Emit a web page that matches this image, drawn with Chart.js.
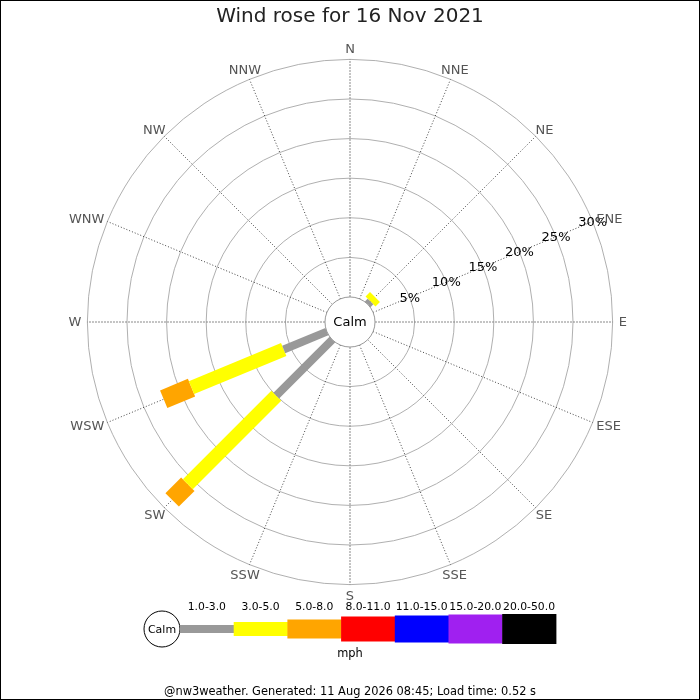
<!DOCTYPE html>
<html>
<head>
<meta charset="utf-8">
<script src="https://cdn.jsdelivr.net/npm/chart.js@4"></script>
<style>
html,body{margin:0;padding:0;background:#fff;}
#wrap{width:700px;height:700px;position:relative;}
</style>
</head>
<body>
<div id="wrap"><canvas id="c"></canvas></div>
<script>
// ---- data ----
const directions = ['N','NNE','NE','ENE','E','ESE','SE','SSE','S','SSW','SW','WSW','W','WNW','NW','NNW'];
const speedBins = ['1.0-3.0','3.0-5.0','5.0-8.0','8.0-11.0','11.0-15.0','15.0-20.0','20.0-50.0'];
// percent of time per direction for each speed bin (mph)
const bin1to3   = [0,0,0.5,0,0,0,0,0,0,0,10.0,5.9,0,0,0,0];
const bin3to5   = [0,0,0.8,0,0,0,0,0,0,0,15.8,12.6,0,0,0,0];
const bin5to8   = [0,0,0,0,0,0,0,0,0,0,2.8,3.8,0,0,0,0];
const bin8to11  = [0,0,0,0,0,0,0,0,0,0,0,0,0,0,0,0];
const bin11to15 = [0,0,0,0,0,0,0,0,0,0,0,0,0,0,0,0];
const bin15to20 = [0,0,0,0,0,0,0,0,0,0,0,0,0,0,0,0];
const bin20to50 = [0,0,0,0,0,0,0,0,0,0,0,0,0,0,0,0];
const ringTicks = [5,10,15,20,25,30];
const titleText = 'Wind rose for 16 Nov 2021';
const unitText = 'mph';
const footerText = '@nw3weather. Generated: 11 Aug 2026 08:45; Load time: 0.52 s';

// ---- styles ----
const binSeries = [bin1to3,bin3to5,bin5to8,bin8to11,bin11to15,bin15to20,bin20to50];
const binColors = ['#999999','#ffff00','#ffa500','#ff0000','#0000ff','#a020f0','#000000'];
const binWidths = [8,14,19,23,25,27,28];
const CALM = 3.16;      // calm-circle radius in percent units
const RANGE = 40;
const FONT = '"DejaVu Sans", sans-serif';

function polar(r, i){
  const a = i*22.5*Math.PI/180;
  return {x: r*Math.sin(a), y: r*Math.cos(a)};
}

const datasets = [];
directions.forEach((d,i)=>{
  let cum = 0;
  binSeries.forEach((s,b)=>{
    const v = s[i];
    if (v > 0){
      datasets.push({
        label: d+' '+speedBins[b],
        data: [polar(CALM+cum,i), polar(CALM+cum+v,i)],
        showLine: true,
        borderColor: binColors[b],
        backgroundColor: binColors[b],
        borderWidth: binWidths[b],
        borderCapStyle: 'butt',
        pointRadius: 0,
        tension: 0
      });
      cum += v;
    }
  });
});

const rosePlugin = {
  id: 'rose',
  beforeDatasetsDraw(chart){
    const ctx = chart.ctx, xs = chart.scales.x, ys = chart.scales.y;
    const cx = xs.getPixelForValue(0), cy = ys.getPixelForValue(0);
    const k = xs.getPixelForValue(1) - cx;
    ctx.save();
    ctx.fillStyle = '#fff';
    ctx.fillRect(0,0,chart.width,chart.height);
    // rings
    ctx.strokeStyle = '#b0b0b0'; ctx.lineWidth = 1;
    ringTicks.forEach(t=>{
      ctx.beginPath(); ctx.arc(cx,cy,(CALM+t)*k,0,Math.PI*2); ctx.stroke();
    });
    // spokes
    const rOut = (CALM+ringTicks[ringTicks.length-1])*k, rIn = CALM*k;
    directions.forEach((d,i)=>{
      const a = i*22.5*Math.PI/180;
      const card = i%4===0;
      ctx.strokeStyle = card ? '#888' : '#444';
      ctx.setLineDash(card ? [2,1] : [1,2]);
      ctx.beginPath();
      ctx.moveTo(cx+rIn*Math.sin(a), cy-rIn*Math.cos(a));
      ctx.lineTo(cx+rOut*Math.sin(a), cy-rOut*Math.cos(a));
      ctx.stroke();
    });
    ctx.restore();
  },
  afterDatasetsDraw(chart){
    const ctx = chart.ctx, xs = chart.scales.x, ys = chart.scales.y;
    const cx = xs.getPixelForValue(0), cy = ys.getPixelForValue(0);
    const k = xs.getPixelForValue(1) - cx;
    ctx.save();
    // calm circle
    ctx.fillStyle = '#fff'; ctx.strokeStyle = '#999'; ctx.lineWidth = 1;
    ctx.beginPath(); ctx.arc(cx,cy,CALM*k,0,Math.PI*2); ctx.fill(); ctx.stroke();
    ctx.fillStyle = '#000'; ctx.font = '13px '+FONT;
    ctx.textAlign = 'center'; ctx.textBaseline = 'middle';
    ctx.fillText('Calm', cx, cy+1);
    // ring labels along ENE
    const aL = 3*22.5*Math.PI/180;
    ringTicks.forEach(t=>{
      const r = (CALM+t)*k;
      ctx.fillText(t+'%', cx+r*Math.sin(aL), cy-r*Math.cos(aL)+1);
    });
    // direction labels
    ctx.fillStyle = '#555'; ctx.font = '13px '+FONT;
    const R0 = (CALM+30)*k + 6;
    directions.forEach((d,i)=>{
      const a = i*22.5*Math.PI/180;
      const w = ctx.measureText(d).width, h = 10;
      const x = cx + Math.sin(a)*(R0 + w/2*Math.abs(Math.sin(a)));
      const y = cy - Math.cos(a)*(R0 + h/2*Math.abs(Math.cos(a))) + 1;
      ctx.fillText(d, x, y);
    });
    // title
    ctx.fillStyle = '#222'; ctx.font = '20px '+FONT;
    ctx.fillText(titleText, 350, 17);
    // legend
    const ly = 629, lx0 = 180, lw = 53.7;
    ctx.strokeStyle = '#000'; ctx.fillStyle = '#fff';
    ctx.beginPath(); ctx.arc(162, ly, 18, 0, Math.PI*2); ctx.fill(); ctx.stroke();
    ctx.fillStyle = '#000'; ctx.font = '11px '+FONT;
    ctx.fillText('Calm', 162, ly+1);
    speedBins.forEach((s,b)=>{
      const x = lx0 + b*lw;
      ctx.fillStyle = binColors[b];
      ctx.fillRect(x, ly - binWidths[b]/2 - (b>=3 ? 1 : 0), lw+0.5, binWidths[b] + (b>=3 ? 2 : 0));
      ctx.fillStyle = '#000'; ctx.font = '10.8px '+FONT;
      ctx.fillText(s, x+lw/2, 607);
    });
    ctx.font = '11.4px '+FONT;
    ctx.fillText(unitText, 350, 654);
    ctx.fillText(footerText, 350, 692);
    // frame
    ctx.strokeStyle = '#000'; ctx.lineWidth = 1;
    ctx.strokeRect(0.5,0.5,chart.width-1,chart.height-1);
    ctx.restore();
  }
};

const pxPerUnit = 7.92;
const half = RANGE*pxPerUnit;
new Chart(document.getElementById('c'), {
  type: 'scatter',
  data: { datasets },
  options: {
    responsive: true,
    maintainAspectRatio: false,
    animation: false,
    layout: { padding: { left: 350-half, right: 700-350-half, top: 322-half, bottom: 700-322-half } },
    scales: {
      x: { type: 'linear', min: -RANGE, max: RANGE, display: false },
      y: { type: 'linear', min: -RANGE, max: RANGE, display: false }
    },
    plugins: { legend: { display: false }, tooltip: { enabled: false }, title: { display: false } }
  },
  plugins: [rosePlugin]
});
</script>
</body>
</html>
